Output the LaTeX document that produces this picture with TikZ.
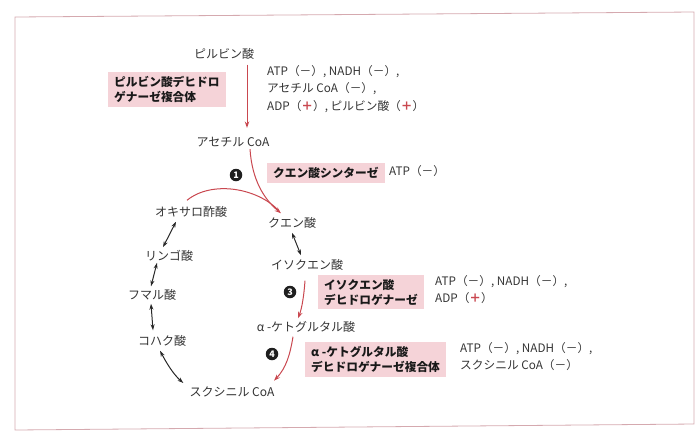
\documentclass[tikz,border=0pt]{standalone}
\usepackage{fontspec}
\setmainfont{Noto Sans CJK JP}
\usetikzlibrary{arrows.meta}
\definecolor{txt}{HTML}{333333}
\definecolor{redc}{HTML}{C9474F}
\definecolor{pinkbox}{HTML}{F5D3D8}
\definecolor{framec}{HTML}{D5A9AF}
\newcommand{\plusr}{\textcolor{redc}{\textbf{＋}}}
\begin{document}
\begin{tikzpicture}[x=1pt,y=-1pt,
  lbl/.style={text=txt, font=\fontsize{12}{14}\selectfont, inner sep=0pt},
  enz/.style={fill=pinkbox, text=black!90, font=\fontsize{11.7}{15}\selectfont\bfseries, align=left, inner xsep=6pt, inner ysep=4pt, anchor=north west},
  reg/.style={text=txt, font=\fontsize{11.7}{17.5}\selectfont, align=left, inner sep=0pt, anchor=north west},
  num/.style={circle, fill=black!88, text=white, font=\fontsize{9}{9}\selectfont\bfseries, inner sep=0pt, minimum size=12.5pt},
  redarr/.style={draw=redc, line width=1pt, -{Stealth[length=6.5pt,width=4.5pt]}},
  redline/.style={draw=redc, line width=1pt},
  blkarr/.style={draw=black!85, line width=1pt, {Stealth[length=6pt,width=4pt]}-{Stealth[length=6pt,width=4pt]}}
]
\path[use as bounding box] (0,0) rectangle (700,432);
\draw[framec, line width=0.8pt] (15,17) -- (694,12) -- (694,424) -- (15,430) -- cycle;

% metabolites
\node[lbl] (pyr)  at (224,54)  {ピルビン酸};
\node[lbl] (acoa) at (233,142) {アセチル CoA};
\node[lbl] (cit)  at (292,223) {クエン酸};
\node[lbl] (iso)  at (307,265) {イソクエン酸};
\node[lbl] (akg)  at (306,327) {α -ケトグルタル酸};
\node[lbl] (scoa) at (232,392) {スクシニル CoA};
\node[lbl] (suc)  at (162,341) {コハク酸};
\node[lbl] (fum)  at (152,295) {フマル酸};
\node[lbl] (mal)  at (169,256) {リンゴ酸};
\node[lbl] (oaa)  at (191,212) {オキサロ酢酸};

% enzymes
\node[enz] (pdh) at (108,72) {ピルビン酸デヒドロ\\ゲナーゼ複合体};
\node[enz] (cs)  at (267,163) {クエン酸シンターゼ};
\node[enz] (idh) at (318,275) {イソクエン酸\\デヒドロゲナーゼ};
\node[enz] (kdh) at (305,342) {α -ケトグルタル酸\\デヒドロゲナーゼ複合体};

% regulators
\node[reg] (r1) at (267,65) {ATP（－）, NADH（－）,\\アセチル CoA（－）,\\ADP（\plusr）, ピルビン酸（\plusr）};
\node[reg] (r2) at (389,165) {ATP（－）};
\node[reg] (r3) at (435,275) {ATP（－）, NADH（－）,\\ADP（\plusr）};
\node[reg] (r4) at (460,342) {ATP（－）, NADH（－）,\\スクシニル CoA（－）};

% step numbers
\node[num] (n1) at (236,175) {1};
\node[num] (n3) at (290,292) {3};
\node[num] (n4) at (272,354) {4};

% red arrows
\draw[redarr] ([shift={(23,5)}]pyr.south) -- ([shift={(14,-9)}]acoa.north);
\draw[redarr] ([shift={(17,2)}]acoa.south) .. controls (252,180) and (264,199) .. ([shift={(-11,-4)}]cit.north);
\draw[redline] ([shift={(-4,-6)}]oaa.north) .. controls (212,180) and (258,188) .. (279,211);
\draw[redarr] ([shift={(-2,10)}]iso.south) .. controls (304,295) and (302,308) .. ([shift={(-8,-3)}]akg.north);
\draw[redarr] ([shift={(-13,4)}]akg.south) .. controls (290,355) and (286,368) .. ([shift={(42,-6)}]scoa.north);

% black double arrows
\draw[blkarr] ([shift={(0,4)}]cit.south) -- ([shift={(-6,-4)}]iso.north);
\draw[blkarr] ([shift={(-15,4)}]oaa.south) -- ([shift={(-6,-3)}]mal.north);
\draw[blkarr] ([shift={(-12,1)}]mal.south) -- ([shift={(-1,-3)}]fum.north);
\draw[blkarr] ([shift={(-1,3)}]fum.south) -- ([shift={(-9,-5)}]suc.north);
\draw[blkarr] ([shift={(-2,4)}]suc.south) .. controls (166,362) and (173,374) .. ([shift={(-6,-9)}]scoa.west);
\end{tikzpicture}
\end{document}
